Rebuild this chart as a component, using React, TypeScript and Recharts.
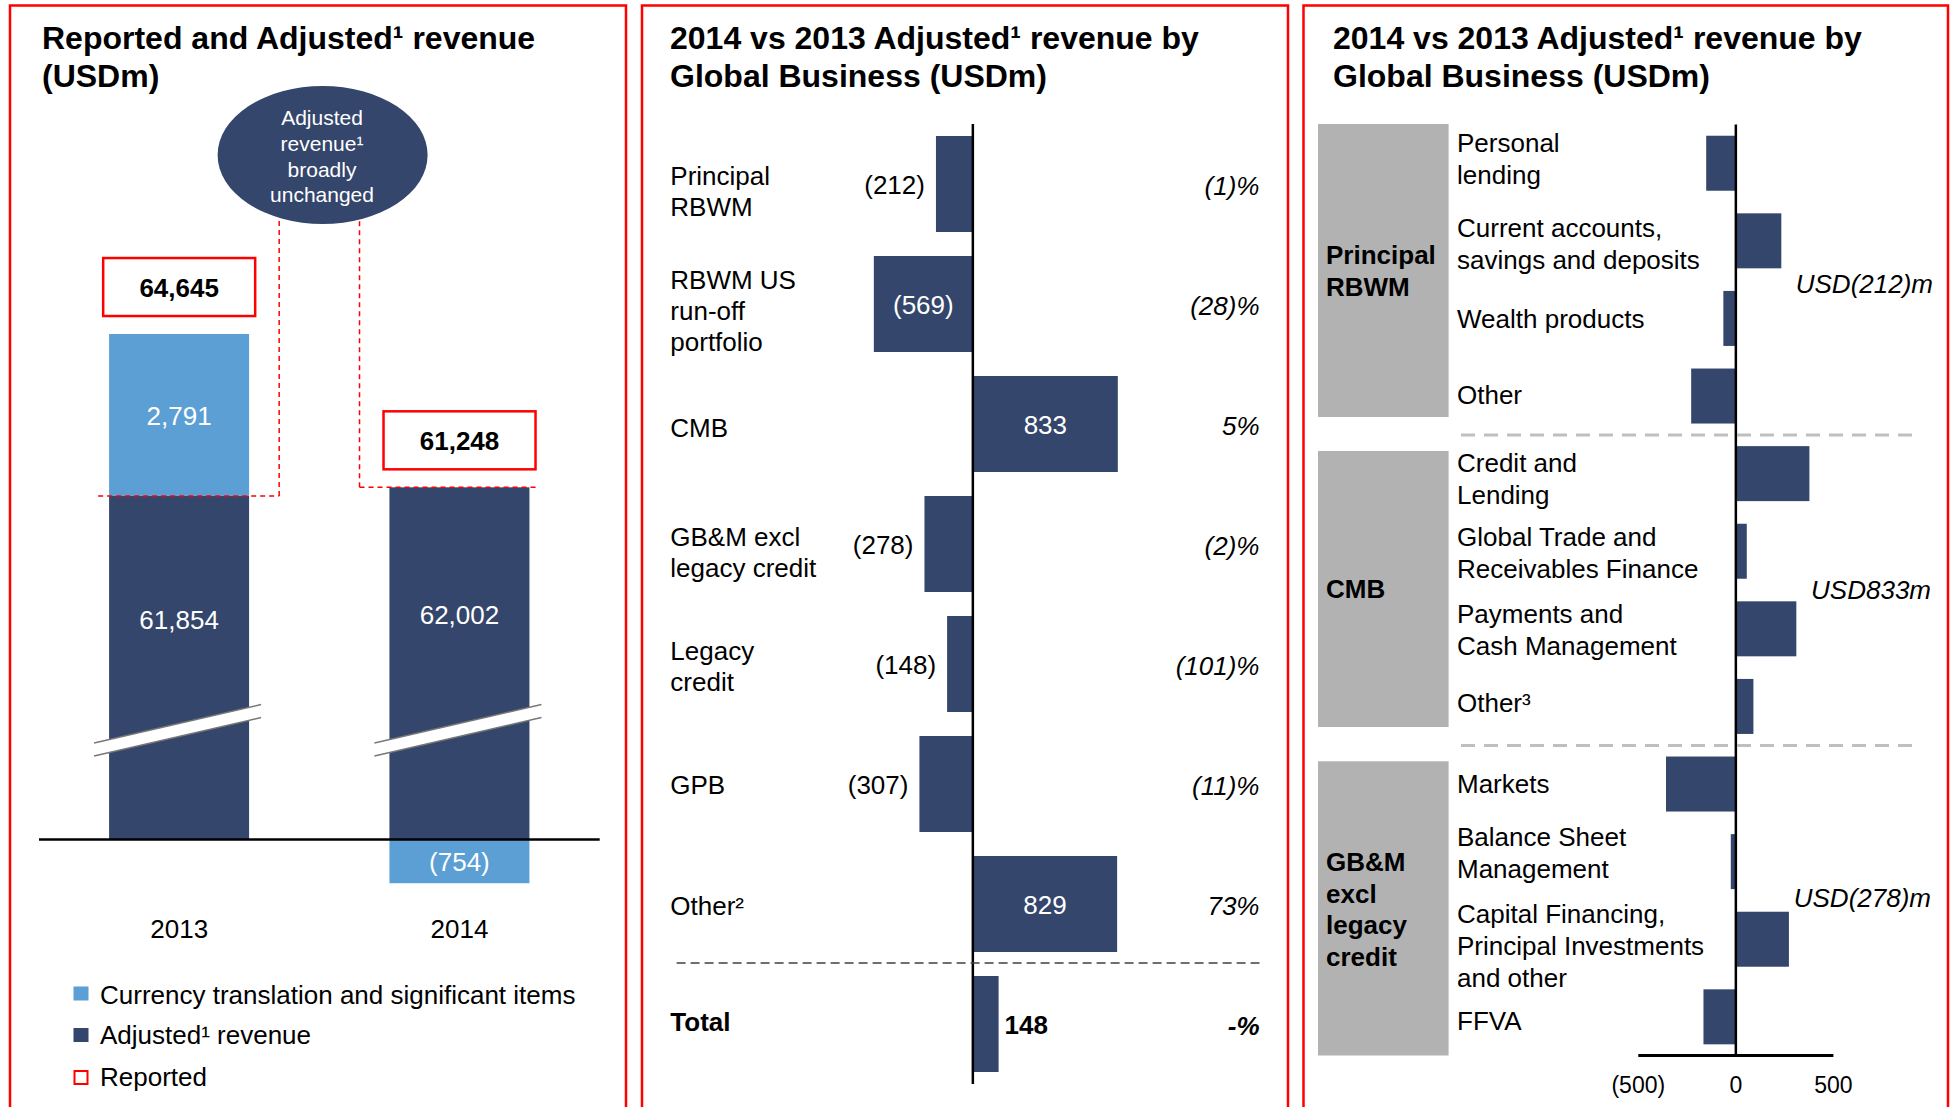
import React from 'react';
import { ComposedChart, BarChart, Bar, Line, XAxis, YAxis, ReferenceLine } from 'recharts';

const FONT = '"Liberation Sans", Arial, Helvetica, sans-serif';
const NAVY = '#34466b';
const LIGHT = '#5b9fd4';
const RED = '#ff0000';

// Reported vs adjusted revenue
const years = ['2013', '2014'];
const adjustedRevenue = [61854, 62002];
const currencyItems = [2791, -754];
const reportedRevenue = [64645, 61248];
const AXIS_BREAK = 55930; // value axis is broken below this level

// by global business
const businesses = [
  'Principal\nRBWM',
  'RBWM US\nrun-off\nportfolio',
  'CMB',
  'GB&M excl\nlegacy credit',
  'Legacy\ncredit',
  'GPB',
  'Other²',
  'Total',
];
const businessChange = [-212, -569, 833, -278, -148, -307, 829, 148];
const businessPct = ['(1)%', '(28)%', '5%', '(2)%', '(101)%', '(11)%', '73%', '-%'];

// by product
const products = [
  'Personal\nlending',
  'Current accounts,\nsavings and deposits',
  'Wealth products',
  'Other',
  'Credit and\nLending',
  'Global Trade and\nReceivables Finance',
  'Payments and\nCash Management',
  'Other³',
  'Markets',
  'Balance Sheet\nManagement',
  'Capital Financing,\nPrincipal Investments\nand other',
  'FFVA',
];
const productChange = [-152, 233, -64, -229, 377, 56, 310, 90, -358, -26, 272, -166];
const productTicks = [-500, 0, 500];

// small vertical nudges of the row labels (layout only)
const businessLabelShift = [6.7, 6.3, 3.5, 8.6, 2.3, 0.7, 2, -2.3];
const productLabelShift = [-4.8, 3.3, 0.6, -1.7, 4.7, 1.7, 1, -3.9, 0, -9.1, 6.8, 3.9];

const fmt = (v: number) =>
  v < 0 ? `(${Math.abs(v).toLocaleString('en-US')})` : v.toLocaleString('en-US');

const revenueData = years.map((year, i) => ({
  year,
  adj: adjustedRevenue[i] - AXIS_BREAK,
  cur: currencyItems[i],
  adjTop: adjustedRevenue[i] - AXIS_BREAK,
  top: adjustedRevenue[i] - AXIS_BREAK + Math.max(currencyItems[i], 0),
}));
const businessData = businesses.map((name, i) => ({ name, value: businessChange[i] }));
const productData = products.map((name, i) => ({ name, value: productChange[i] }));

const norm = (p: any) => {
  const left = Math.min(p.x, p.x + p.width);
  const top = Math.min(p.y, p.y + p.height);
  return { left, top, w: Math.abs(p.width), h: Math.abs(p.height) };
};

/* ---------- panel 1 pieces ---------- */
function AdjustedShape(props: any) {
  const { left, top, w, h } = norm(props);
  const cx = left + w / 2;
  const bandTop = top + h - 116;
  const slope = -38.5 / 167;
  const x1 = left - 15;
  const x2 = left + w + 12;
  const yAt = (xx: number) => bandTop + (xx - cx) * slope;
  return (
    <g>
      <rect x={left} y={top} width={w} height={h} fill={NAVY} />
      <polygon
        points={`${x1},${yAt(x1)} ${x2},${yAt(x2)} ${x2},${yAt(x2) + 13} ${x1},${yAt(x1) + 13}`}
        fill="#fff"
      />
      <line x1={x1} y1={yAt(x1)} x2={x2} y2={yAt(x2)} stroke="#777" strokeWidth={1.5} />
      <line x1={x1} y1={yAt(x1) + 13} x2={x2} y2={yAt(x2) + 13} stroke="#777" strokeWidth={1.5} />
      <text x={cx} y={top + h / 2 - 39} textAnchor="middle" fill="#fff" fontSize={26} fontFamily={FONT}>
        {fmt(adjustedRevenue[props.index])}
      </text>
    </g>
  );
}

function CurrencyShape(props: any) {
  const { left, top, w, h } = norm(props);
  return (
    <g>
      <rect x={left} y={top} width={w} height={h} fill={LIGHT} />
      <text x={left + w / 2} y={top + h / 2 + 10} textAnchor="middle" fill="#fff" fontSize={26} fontFamily={FONT}>
        {fmt(currencyItems[props.index])}
      </text>
    </g>
  );
}

function ReportedBox(props: any) {
  const { cx, cy, index } = props;
  const w = 152;
  const h = 58;
  return (
    <g key={`rb${index}`}>
      <rect x={cx - w / 2} y={cy - 18 - h} width={w} height={h} fill="#fff" stroke={RED} strokeWidth={2.5} />
      <text x={cx} y={cy - 37.5} textAnchor="middle" fontSize={26} fontWeight="bold" fontFamily={FONT}>
        {fmt(reportedRevenue[index])}
      </text>
    </g>
  );
}

function Connector(props: any) {
  const { cx, cy, index } = props;
  const vx = index === 0 ? cx + 100 : cx - 100;
  const hx1 = index === 0 ? cx - 81 : cx - 100;
  const hx2 = index === 0 ? cx + 100 : cx + 79;
  return (
    <g key={`cn${index}`}>
      <line x1={hx1} x2={hx2} y1={cy} y2={cy} stroke={RED} strokeWidth={1.5} strokeDasharray="5 4" />
      <line x1={vx} x2={vx} y1={cy} y2={205} stroke={RED} strokeWidth={1.5} strokeDasharray="5 4" />
    </g>
  );
}

function YearTick(props: any) {
  return (
    <text x={props.x} y={938} textAnchor="middle" fontSize={26} fontFamily={FONT} fill="#000">
      {props.payload.value}
    </text>
  );
}

/* ---------- panel 2 pieces ---------- */
function BusinessShape(props: any) {
  const { left, top, w, h } = norm(props);
  const i = props.index;
  const v = businessChange[i];
  const cy = top + h / 2;
  const isTotal = i === businesses.length - 1;
  let label;
  if (w > 80) {
    label = (
      <text x={left + w / 2} y={cy + 9.5} textAnchor="middle" fill="#fff" fontSize={26} fontFamily={FONT}>
        {fmt(v)}
      </text>
    );
  } else if (v < 0) {
    label = (
      <text x={left - 11} y={cy + 9.5} textAnchor="end" fill="#000" fontSize={26} fontFamily={FONT}>
        {fmt(v)}
      </text>
    );
  } else {
    label = (
      <text x={left + w + 6} y={cy + 9.5} textAnchor="start" fill="#000" fontSize={26} fontWeight="bold" fontFamily={FONT}>
        {fmt(v)}
      </text>
    );
  }
  return (
    <g>
      <rect x={left} y={top} width={w} height={h} fill={NAVY} />
      {label}
      <text
        x={617.5}
        y={cy + 11}
        textAnchor="end"
        fontStyle="italic"
        fontWeight={isTotal ? 'bold' : 'normal'}
        fontSize={26}
        fontFamily={FONT}
        fill="#000"
      >
        {businessPct[i]}
      </text>
    </g>
  );
}

function BusinessTick(props: any) {
  const { y, payload } = props;
  const lines = String(payload.value).split('\n');
  const n = lines.length;
  const idx = businesses.indexOf(payload.value);
  const shift = businessLabelShift[idx] || 0;
  const isTotal = payload.value === 'Total';
  return (
    <g>
      {isTotal && (
        <line x1={34.6} x2={617.5} y1={y - 61} y2={y - 61} stroke="#404040" strokeWidth={1.5} strokeDasharray="9 5" />
      )}
      <text fontSize={26} fontFamily={FONT} fill="#000" fontWeight={isTotal ? 'bold' : 'normal'}>
        {lines.map((l, i) => (
          <tspan key={i} x={28.3} y={y + 9.3 + shift + (i - (n - 1) / 2) * 31}>
            {l}
          </tspan>
        ))}
      </text>
    </g>
  );
}

/* ---------- panel 3 pieces ---------- */
function ProductShape(props: any) {
  const { left, top, w, h } = norm(props);
  return <rect x={left} y={top} width={w} height={h} fill={NAVY} />;
}

function ProductTick(props: any) {
  const { y, payload } = props;
  const lines = String(payload.value).split('\n');
  const n = lines.length;
  const idx = products.indexOf(payload.value);
  const shift = productLabelShift[idx] || 0;
  return (
    <text fontSize={26} fontFamily={FONT} fill="#000">
      {lines.map((l, i) => (
        <tspan key={i} x={153} y={y + 9.3 + shift + (i - (n - 1) / 2) * 32}>
          {l}
        </tspan>
      ))}
    </text>
  );
}

function ValueTick(props: any) {
  return (
    <text x={props.x} y={1093} textAnchor="middle" fontSize={23} fontFamily={FONT} fill="#000">
      {fmt(props.payload.value)}
    </text>
  );
}

/* ---------- static annotation layer ---------- */
function Title({ x, lines }: { x: number; lines: string[] }) {
  return (
    <text fontSize={32} fontWeight="bold" fontFamily={FONT} fill="#000">
      {lines.map((l, i) => (
        <tspan key={i} x={x} y={49 + i * 38}>
          {l}
        </tspan>
      ))}
    </text>
  );
}

function Overlay() {
  const txt = { fontFamily: FONT, fontSize: 26, fill: '#000' };
  return (
    <svg width={1951} height={1107} style={{ position: 'absolute', left: 0, top: 0, pointerEvents: 'none' }}>
      {/* panel frames */}
      <rect x={10} y={5.5} width={616} height={1120} fill="none" stroke={RED} strokeWidth={2.5} />
      <rect x={642} y={5.5} width={646} height={1120} fill="none" stroke={RED} strokeWidth={2.5} />
      <rect x={1303.5} y={5.5} width={644.5} height={1120} fill="none" stroke={RED} strokeWidth={2.5} />

      <Title x={42} lines={['Reported and Adjusted¹ revenue', '(USDm)']} />
      <Title x={670} lines={['2014 vs 2013 Adjusted¹ revenue by', 'Global Business (USDm)']} />
      <Title x={1333} lines={['2014 vs 2013 Adjusted¹ revenue by', 'Global Business (USDm)']} />

      {/* callout */}
      <ellipse cx={322.6} cy={155} rx={105} ry={69} fill={NAVY} />
      <text fontFamily={FONT} fontSize={21} fill="#fff" textAnchor="middle">
        <tspan x={322} y={125}>Adjusted</tspan>
        <tspan x={322} y={150.5}>revenue¹</tspan>
        <tspan x={322} y={176.5}>broadly</tspan>
        <tspan x={322} y={202}>unchanged</tspan>
      </text>

      {/* legend */}
      <rect x={73.5} y={986.5} width={15} height={14} fill={LIGHT} />
      <text x={100} y={1004} {...txt}>Currency translation and significant items</text>
      <rect x={73.5} y={1028} width={15} height={14} fill={NAVY} />
      <text x={100} y={1044} {...txt}>Adjusted¹ revenue</text>
      <rect x={74.5} y={1071} width={13} height={13} fill="#fff" stroke={RED} strokeWidth={2} />
      <text x={100} y={1086} {...txt}>Reported</text>

      {/* panel 3 groups */}
      <rect x={1318} y={124} width={130.6} height={293} fill="#b2b2b2" />
      <rect x={1318} y={451} width={130.6} height={276} fill="#b2b2b2" />
      <rect x={1318} y={761.3} width={130.6} height={294.2} fill="#b2b2b2" />
      <text {...txt} fontWeight="bold">
        <tspan x={1326} y={264}>Principal</tspan>
        <tspan x={1326} y={296.4}>RBWM</tspan>
      </text>
      <text {...txt} fontWeight="bold" x={1326} y={598}>CMB</text>
      <text {...txt} fontWeight="bold">
        <tspan x={1326} y={871}>GB&amp;M</tspan>
        <tspan x={1326} y={902.7}>excl</tspan>
        <tspan x={1326} y={934.2}>legacy</tspan>
        <tspan x={1326} y={966}>credit</tspan>
      </text>
      <line x1={1461} x2={1920} y1={435} y2={435} stroke="#bfbfbf" strokeWidth={3} strokeDasharray="14 9" />
      <line x1={1461} x2={1920} y1={745.4} y2={745.4} stroke="#bfbfbf" strokeWidth={3} strokeDasharray="14 9" />
      <text {...txt} fontStyle="italic" textAnchor="end" x={1933} y={293}>USD(212)m</text>
      <text {...txt} fontStyle="italic" textAnchor="end" x={1931} y={598.6}>USD833m</text>
      <text {...txt} fontStyle="italic" textAnchor="end" x={1931} y={907}>USD(278)m</text>
    </svg>
  );
}

export default function App() {
  return (
    <div
      style={{
        position: 'absolute',
        left: 0,
        top: 0,
        width: 1951,
        height: 1107,
        background: '#fff',
        overflow: 'hidden',
        fontFamily: FONT,
      }}
    >
      {/* Reported and adjusted revenue */}
      <div style={{ position: 'absolute', left: 0, top: 0 }}>
        <ComposedChart
          width={640}
          height={1107}
          data={revenueData}
          stackOffset="sign"
          barCategoryGap="25%"
          margin={{ top: 317.5, right: 40.3, bottom: 169.5, left: 39 }}
        >
          <XAxis dataKey="year" axisLine={false} tickLine={false} height={40} tick={<YearTick />} interval={0} />
          <YAxis type="number" domain={[-1000, 9000]} hide width={0} />
          <Bar dataKey="adj" stackId="r" shape={<AdjustedShape />} isAnimationActive={false} />
          <Bar dataKey="cur" stackId="r" shape={<CurrencyShape />} isAnimationActive={false} />
          <ReferenceLine y={0} stroke="#000" strokeWidth={2.5} />
          <Line
            dataKey="adjTop"
            stroke="none"
            dot={(p: any) => <Connector key={`c${p.index}`} {...p} />}
            activeDot={false}
            isAnimationActive={false}
          />
          <Line
            dataKey="top"
            stroke="none"
            dot={(p: any) => <ReportedBox key={`b${p.index}`} {...p} />}
            activeDot={false}
            isAnimationActive={false}
          />
        </ComposedChart>
      </div>

      {/* by global business */}
      <div style={{ position: 'absolute', left: 642, top: 0 }}>
        <BarChart
          width={646}
          height={1107}
          data={businessData}
          layout="vertical"
          barCategoryGap="10%"
          margin={{ top: 124, right: 28, bottom: 23, left: 0 }}
        >
          <XAxis type="number" domain={[-1700, 1650]} hide height={0} />
          <YAxis
            type="category"
            dataKey="name"
            width={35}
            axisLine={false}
            tickLine={false}
            interval={0}
            tick={<BusinessTick />}
          />
          <Bar dataKey="value" shape={<BusinessShape />} isAnimationActive={false} />
          <ReferenceLine x={0} stroke="#000" strokeWidth={2.5} />
        </BarChart>
      </div>

      {/* by product */}
      <div style={{ position: 'absolute', left: 1304, top: 0 }}>
        <BarChart
          width={646}
          height={1107}
          data={productData}
          layout="vertical"
          barCategoryGap="14.6%"
          margin={{ top: 124.4, right: 116.6, bottom: 6.4, left: 0 }}
        >
          <XAxis
            type="number"
            domain={[-500, 500]}
            ticks={productTicks}
            height={45}
            axisLine={{ stroke: '#000', strokeWidth: 3 }}
            tickLine={false}
            tick={<ValueTick />}
          />
          <YAxis
            type="category"
            dataKey="name"
            width={334.3}
            axisLine={false}
            tickLine={false}
            interval={0}
            tick={<ProductTick />}
          />
          <Bar dataKey="value" shape={<ProductShape />} isAnimationActive={false} />
          <ReferenceLine x={0} stroke="#000" strokeWidth={2.5} />
        </BarChart>
      </div>

      <Overlay />
    </div>
  );
}
